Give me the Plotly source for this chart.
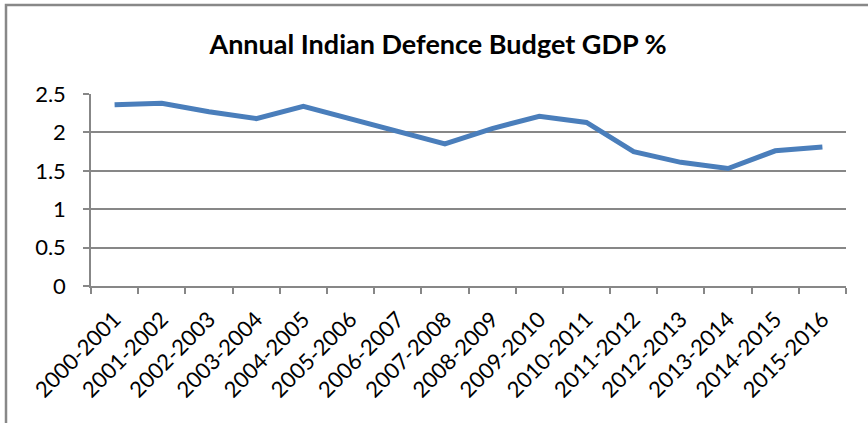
import plotly.graph_objects as go

years = ["2000-2001", "2001-2002", "2002-2003", "2003-2004", "2004-2005", "2005-2006",
         "2006-2007", "2007-2008", "2008-2009", "2009-2010", "2010-2011", "2011-2012",
         "2012-2013", "2013-2014", "2014-2015", "2015-2016"]
gdp_pct = [2.36, 2.38, 2.27, 2.18, 2.34, 2.18, 2.02, 1.85, 2.05, 2.21, 2.13, 1.75,
           1.61, 1.53, 1.76, 1.81]
y_ticks = [0, 0.5, 1, 1.5, 2, 2.5]
y_tick_text = ["0", "0.5", "1", "1.5", "2", "2.5"]

FONT = "Lato"
GRID = "#878787"

fig = go.Figure()
fig.add_trace(go.Scatter(
    x=years, y=gdp_pct, mode="lines",
    line=dict(color="#4A7EBB", width=5),
    showlegend=False, hoverinfo="x+y",
))

W, H = 868, 423
ml, mt = 91, 94
mr = W - 846
mb = H - 286
pw, ph = W - ml - mr, H - mt - mb

def px(x):
    return (x - ml) / pw

def py(y):
    return (H - mb - y) / ph

fig.update_layout(
    width=W, height=H,
    margin=dict(l=ml, r=mr, t=mt, b=mb, autoexpand=False),
    paper_bgcolor="white", plot_bgcolor="white",
    title=dict(text="<b>Annual Indian Defence Budget GDP %</b>",
               x=438 / W, xanchor="center", y=1 - 45 / H, yanchor="middle",
               font=dict(family=FONT, size=27, color="black")),
    xaxis=dict(
        type="category", tickangle=-45, tickson="boundaries",
        ticks="outside", ticklen=6, tickcolor=GRID, tickwidth=1.5,
        showline=True, linecolor=GRID, linewidth=1.5,
        showgrid=False, range=[-0.5, len(years) - 0.5],
        tickfont=dict(family=FONT, size=22, color="black"),
        ticklabelstandoff=10,
        fixedrange=True,
    ),
    yaxis=dict(
        range=[0, 2.5], tickvals=y_ticks, ticktext=y_tick_text,
        ticks="outside", ticklen=6, tickcolor=GRID, tickwidth=1.5,
        showline=True, linecolor=GRID, linewidth=1.5,
        showgrid=True, gridcolor=GRID, gridwidth=1.5,
        zeroline=False,
        tickfont=dict(family=FONT, size=22, color="black"),
        ticklabelstandoff=13,
        fixedrange=True,
    ),
    shapes=[dict(
        type="path", xref="paper", yref="paper",
        path=f"M {px(6)},{py(440)} L {px(6)},{py(5)} L {px(890)},{py(5)}",
        line=dict(color="#888888", width=2.5),
    )],
)

fig.write_html("out.html", config={"displayModeBar": False},
               post_script="document.body.style.margin='0px';")
